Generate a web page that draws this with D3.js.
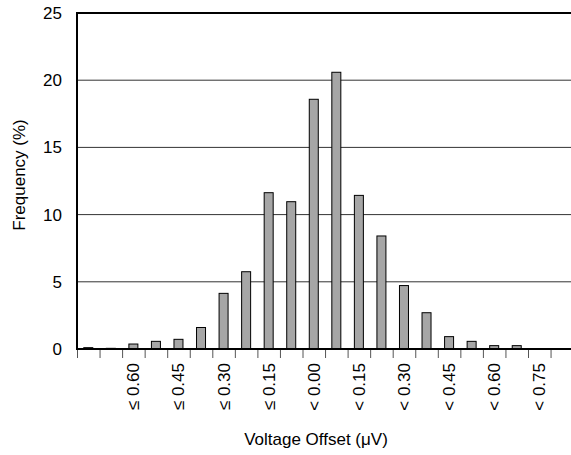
<!DOCTYPE html>
<html>
<head>
<meta charset="utf-8">
<script src="https://cdn.jsdelivr.net/npm/d3@7"></script>
<style>
  body { margin: 0; background: #fff; }
  svg { display: block; font-family: "Liberation Sans", Arial, sans-serif; }
</style>
</head>
<body>
<div id="chart"></div>
<script>
// histogram bins (one bar per bin), values in percent
const binValues = [0.1, 0.05, 0.37, 0.57, 0.72, 1.6, 4.14, 5.75, 11.63, 10.96, 18.58,
                   20.59, 11.43, 8.41, 4.72, 2.7, 0.92, 0.57, 0.25, 0.25, 0, 0];
// labels under every other bin
const binLabels = ["", "", "\u2264 0.60", "", "\u2264 0.45", "", "\u2264 0.30", "", "\u2264 0.15", "",
                   "< 0.00", "", "< 0.15", "", "< 0.30", "", "< 0.45", "", "< 0.60", "", "< 0.75", ""];
const yTicks = [0, 5, 10, 15, 20, 25];

const W = 571, H = 455;
const margin = {top: 13, left: 77, bottom: 106};
const binW = 22.55;
const plotBottom = H - margin.bottom;

const svg = d3.select("#chart").append("svg")
    .attr("width", W)
    .attr("height", H);

const x = d3.scaleLinear()
    .domain([0, binValues.length])
    .range([margin.left, margin.left + binW * binValues.length]);

const y = d3.scaleLinear()
    .domain([0, 25])
    .range([plotBottom, margin.top]);

// gridlines
svg.append("g")
    .selectAll("line")
    .data(yTicks.filter(d => d > 0 && d < 25))
    .enter().append("line")
    .attr("x1", margin.left).attr("x2", W)
    .attr("y1", d => y(d)).attr("y2", d => y(d))
    .attr("stroke", "#333").attr("stroke-width", 1);

// y axis labels
const yAxis = d3.axisLeft(y).tickValues(yTicks).tickSize(0).tickPadding(15);
svg.append("g")
    .attr("transform", "translate(" + margin.left + ",0)")
    .call(yAxis)
    .call(g => g.select(".domain").remove())
    .selectAll("text")
    .attr("font-size", 17)
    .attr("font-family", "Liberation Sans, Arial, sans-serif")
    .attr("fill", "#000");

// x ticks at bin edges
const xAxis = d3.axisBottom(x).ticks(binValues.length).tickFormat("").tickSize(9).tickSizeOuter(0);
svg.append("g")
    .attr("transform", "translate(0," + plotBottom + ")")
    .call(xAxis)
    .call(g => g.select(".domain").remove())
    .selectAll("line").attr("stroke", "#555");

// bars
const barW = 9;
svg.append("g")
    .selectAll("rect")
    .data(binValues)
    .enter().append("rect")
    .attr("x", (d, i) => x(i + 0.5) - barW / 2)
    .attr("width", barW)
    .attr("y", d => y(d))
    .attr("height", d => y(0) - y(d))
    .attr("fill", "#a6a6a6")
    .attr("stroke", "#000")
    .attr("stroke-width", 1);

// frame: left, top, bottom
svg.append("line")
    .attr("x1", margin.left).attr("x2", margin.left)
    .attr("y1", margin.top).attr("y2", plotBottom + 1)
    .attr("stroke", "#000").attr("stroke-width", 2);
svg.append("line")
    .attr("x1", margin.left - 1).attr("x2", W)
    .attr("y1", margin.top).attr("y2", margin.top)
    .attr("stroke", "#000").attr("stroke-width", 2);
svg.append("line")
    .attr("x1", margin.left - 1).attr("x2", W)
    .attr("y1", plotBottom).attr("y2", plotBottom)
    .attr("stroke", "#000").attr("stroke-width", 2);

// rotated bin labels
svg.append("g")
    .selectAll("text")
    .data(binLabels)
    .enter().append("text")
    .filter(d => d !== "")
    .attr("transform", function (d) {
        const i = binLabels.indexOf(d);
        return "translate(" + (x(i + 0.5) + 6) + "," + (plotBottom + 14) + ") rotate(-90)";
    })
    .attr("text-anchor", "end")
    .attr("font-size", 17)
    .text(d => d);

// axis titles
svg.append("text")
    .attr("x", 316).attr("y", 445)
    .attr("text-anchor", "middle")
    .attr("font-size", 17)
    .text("Voltage Offset (\u03bcV)");

svg.append("text")
    .attr("transform", "translate(25," + 175 + ") rotate(-90)")
    .attr("text-anchor", "middle")
    .attr("font-size", 17)
    .text("Frequency (%)");
</script>
</body>
</html>
